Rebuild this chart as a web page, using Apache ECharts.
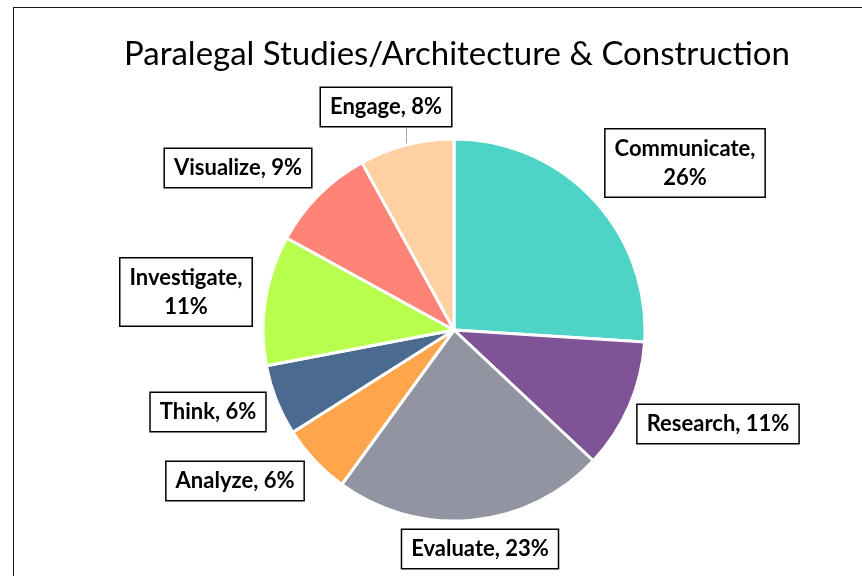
<!DOCTYPE html>
<html>
<head>
<meta charset="utf-8">
<script src="https://cdn.jsdelivr.net/npm/echarts@6/dist/echarts.min.js"></script>
<style>
  html, body { margin: 0; padding: 0; background: #fff; overflow: hidden; }
  #wrap { position: relative; width: 862px; height: 576px; overflow: hidden; }
  #frame { position: absolute; left: 13px; top: 7px; width: 1000px; height: 1000px; border: 1.5px solid #1a1a1a; box-sizing: border-box; }
  #chart { position: absolute; left: 0; top: 0; width: 862px; height: 576px; }
</style>
</head>
<body>
<div id="wrap">
  <div id="frame"></div>
  <div id="chart"></div>
</div>
<script>
(function () {
  const categories = ['Communicate', 'Research', 'Evaluate', 'Analyze', 'Think', 'Investigate', 'Visualize', 'Engage'];
  const values = [26, 11, 23, 6, 6, 11, 9, 8];
  const colors = ['#4dd4c6', '#7e5496', '#9394a2', '#ffa64d', '#4a6b8f', '#b8ff4d', '#ff8477', '#ffd0a2'];
  // label box centres, in pixels
  const labelSpots = [[685, 163], [718, 424], [480, 549], [235, 481], [208, 412], [186, 292], [238, 168], [386, 107]];
  const twoLine = ['Communicate', 'Investigate'];

  const chart = echarts.init(document.getElementById('chart'), null, { renderer: 'canvas' });

  const data = categories.map((name, i) => {
    const item = { name, value: values[i], itemStyle: { color: colors[i] } };
    if (name === 'Engage') {
      item.labelLine = { show: true, length: 5, length2: 5, lineStyle: { color: '#a6a6a6', width: 1 } };
    }
    return item;
  });

  chart.setOption({
    animation: false,
    title: {
      text: 'Paralegal Studies/Architecture & Construction',
      left: 119,
      top: 33,
      textStyle: { fontFamily: 'Lato', fontWeight: 'normal', fontSize: 33, color: '#000' }
    },
    series: [{
      type: 'pie',
      center: [454, 330],
      radius: 191,
      startAngle: 90,
      clockwise: true,
      data,
      itemStyle: { borderColor: '#fff', borderWidth: 3 },
      label: {
        show: true,
        position: 'outside',
        formatter: (p) => twoLine.includes(p.name) ? p.name + ',\n' + p.value + '%' : p.name + ', ' + p.value + '%',
        fontFamily: 'Lato',
        fontWeight: 'bold',
        fontSize: 22,
        lineHeight: 29,
        color: '#000',
        align: 'center',
        backgroundColor: '#fff',
        borderColor: '#000',
        borderWidth: 1.5,
        padding: [5, 9, 4, 9]
      },
      labelLine: { show: false },
      labelLayout: (params) => {
        const spot = labelSpots[params.dataIndex];
        const out = { x: spot[0], y: spot[1], align: 'center', verticalAlign: 'middle', hideOverlap: false };
        const pts = params.labelLinePoints;
        if (pts && categories[params.dataIndex] === 'Engage') {
          const start = pts[0];
          const end = [start[0], spot[1] + params.labelRect.height / 2];
          out.labelLinePoints = [start, [start[0], (start[1] + end[1]) / 2], end];
        }
        return out;
      }
    }]
  });
})();
</script>
</body>
</html>
